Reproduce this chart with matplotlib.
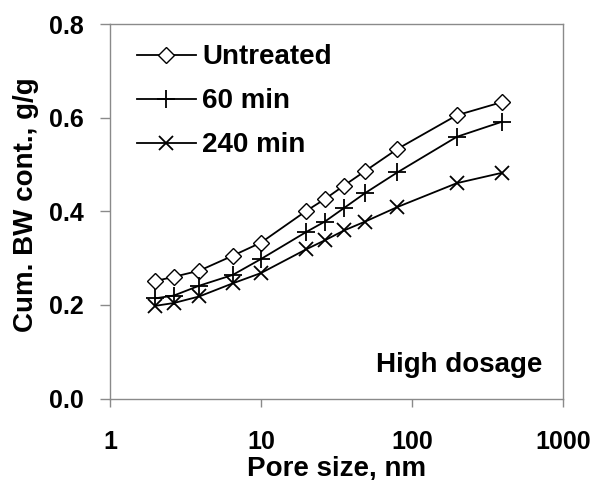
import matplotlib
matplotlib.use("Agg")
import matplotlib.pyplot as plt

pore_size = [2, 2.65, 3.9, 6.5, 10, 20, 26.5, 35.5, 49, 80, 198, 393]
untreated = [0.251, 0.260, 0.273, 0.305, 0.333, 0.401, 0.426, 0.455, 0.486, 0.533, 0.605, 0.633]
min60 = [0.214, 0.220, 0.241, 0.264, 0.298, 0.356, 0.378, 0.407, 0.439, 0.483, 0.559, 0.591]
min240 = [0.198, 0.204, 0.218, 0.246, 0.268, 0.319, 0.338, 0.359, 0.378, 0.409, 0.460, 0.482]
series_labels = ["Untreated", "60 min", "240 min"]
x_ticks = [1, 10, 100, 1000]
x_tick_labels = ["1", "10", "100", "1000"]
y_ticks = [0.0, 0.2, 0.4, 0.6, 0.8]

plt.rcParams['font.family'] = ['Liberation Sans', 'DejaVu Sans']
plt.rcParams['font.weight'] = 'bold'

fig = plt.figure(figsize=(5.93, 4.80), dpi=100)
ax = fig.add_axes([110/593, 1 - 398.5/480, 453/593, 374.5/480])

lw = 1.3
ax.plot(pore_size, untreated, color='black', lw=lw, marker='D', ms=8,
        mfc='white', mec='black', mew=1.0, label=series_labels[0])
ax.plot(pore_size, min60, color='black', lw=lw, marker='+', ms=13,
        mew=1.3, label=series_labels[1])
ax.plot(pore_size, min240, color='black', lw=lw, marker='x', ms=10,
        mew=1.3, label=series_labels[2])

ax.set_xscale('log')
ax.set_xlim(1, 1000)
ax.set_ylim(0, 0.8)
ax.set_xticks(x_ticks)
ax.set_xticklabels(x_tick_labels)
ax.set_yticks(y_ticks)
ax.set_yticklabels([f"{v:.1f}" for v in y_ticks])
ax.xaxis.set_minor_locator(matplotlib.ticker.NullLocator())

for s in ax.spines.values():
    s.set_color('#8a8a8a')
    s.set_linewidth(1.0)
ax.tick_params(axis='x', direction='out', color='#8a8a8a', length=6,
               width=1.0, labelsize=18, pad=17)
ax.tick_params(axis='y', direction='out', color='#8a8a8a', length=7,
               width=1.0, labelsize=18, pad=12)
for lab in ax.get_xticklabels() + ax.get_yticklabels():
    lab.set_fontweight('bold')

ax.set_xlabel("Pore size, nm", fontsize=20, fontweight='bold')
ax.xaxis.set_label_coords(0.5, -0.186)
ax.xaxis.label.set_va('center')
ax.set_ylabel("Cum. BW cont., g/g", fontsize=20, fontweight='bold')
ax.yaxis.set_label_coords(-0.185, 0.517)
ax.yaxis.label.set_va('center')

leg = ax.legend(loc='upper left', frameon=False, fontsize=20,
                handlelength=2.1, handletextpad=0.25, labelspacing=0.65,
                bbox_to_anchor=(0.06, 0.946), borderaxespad=0, borderpad=0)
for t in leg.get_texts():
    t.set_fontweight('bold')

ax.text(0.955, 0.089, "High dosage", transform=ax.transAxes, ha='right',
        va='center', fontsize=20, fontweight='bold')

fig.savefig("out.png", dpi=100)
